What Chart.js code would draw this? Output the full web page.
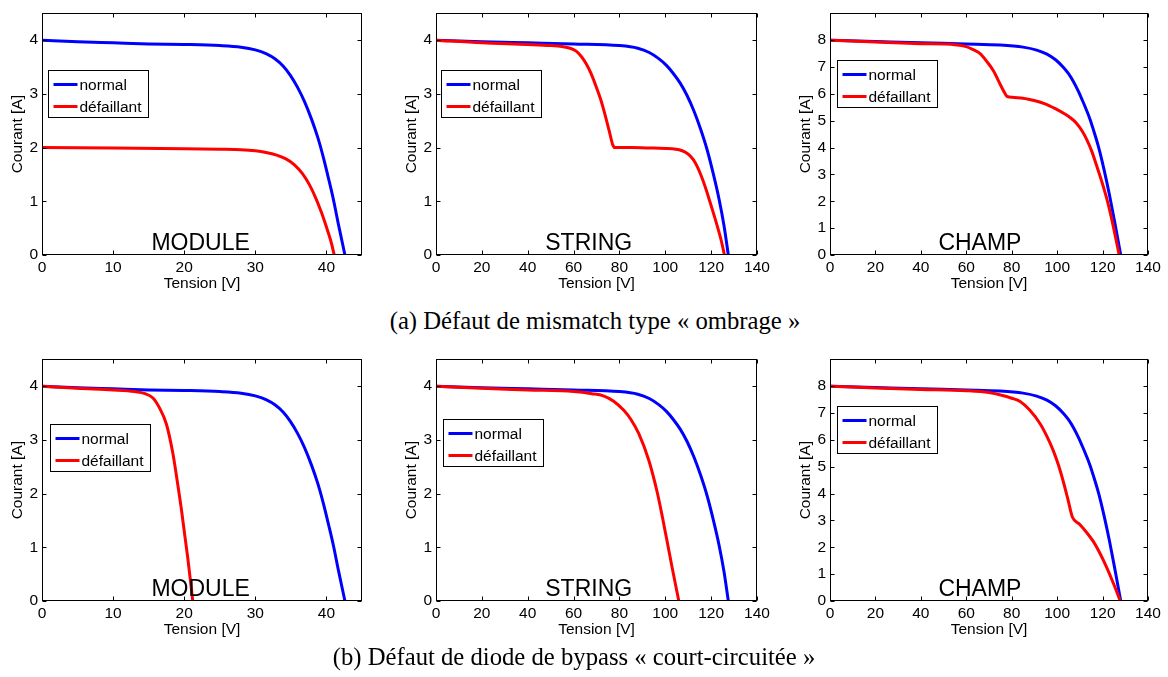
<!DOCTYPE html>
<html>
<head>
<meta charset="utf-8">
<script src="https://cdn.jsdelivr.net/npm/chart.js@4.4.1/dist/chart.umd.min.js"></script>
<style>
  body { margin: 0; background: #fff; width: 1168px; height: 677px; overflow: hidden; position: relative; }
  canvas { position: absolute; }
  .caption {
    position: absolute;
    font-family: "Liberation Serif", "Times New Roman", serif;
    font-size: 24.7px;
    line-height: 24px;
    white-space: nowrap;
    transform: translateX(-50%);
    color: #000;
  }
</style>
</head>
<body>
<canvas id="c1" width="380" height="300" style="left:0px;top:0px"></canvas>
<canvas id="c2" width="380" height="300" style="left:394px;top:0px"></canvas>
<canvas id="c3" width="380" height="300" style="left:788px;top:0px"></canvas>
<canvas id="c4" width="380" height="300" style="left:0px;top:346px"></canvas>
<canvas id="c5" width="380" height="300" style="left:394px;top:346px"></canvas>
<canvas id="c6" width="380" height="300" style="left:788px;top:346px"></canvas>
<div class="caption" style="left:595px;top:309px">(a) Défaut de mismatch type « ombrage »</div>
<div class="caption" style="left:574px;top:645px">(b) Défaut de diode de bypass « court-circuitée »</div>
<script>
// =========================
// DATA (tension V / courant A)
// =========================
const moduleNormalV = [0, 5, 10, 15, 20, 25, 28, 30, 31.5, 32.8, 33.9, 34.9, 35.9, 36.9, 37.9, 38.8, 39.6, 40.3, 41.0, 41.7, 42.6];
const moduleNormalI = [4.0, 3.97, 3.95, 3.93, 3.92, 3.9, 3.87, 3.82, 3.75, 3.65, 3.52, 3.35, 3.13, 2.86, 2.53, 2.18, 1.8, 1.42, 1.02, 0.56, 0];

const stringNormalV = [0, 20, 40, 60, 80, 88, 93, 97, 100.5, 103.5, 106.5, 109.5, 112.5, 115.5, 118.3, 121, 123.5, 125.6, 127.5];
const stringNormalI = [4.0, 3.97, 3.95, 3.93, 3.9, 3.85, 3.77, 3.66, 3.53, 3.38, 3.2, 2.97, 2.68, 2.33, 1.95, 1.5, 1.03, 0.55, 0];

const champNormalV = [0, 20, 40, 60, 75, 85, 91, 95.5, 99.3, 102.6, 105, 107.2, 109.2, 111, 112.8, 114.5, 116.2, 118.3, 120.6, 123, 125.5, 128];
const champNormalI = [8.0, 7.95, 7.9, 7.86, 7.82, 7.74, 7.63, 7.48, 7.27, 7.0, 6.75, 6.45, 6.12, 5.78, 5.42, 5.05, 4.6, 4.0, 3.2, 2.25, 1.15, 0];

// (a) ombrage
const moduleOmbrageV = [0, 10, 20, 25, 28, 30, 31.5, 33, 34.3, 35.5, 36.6, 37.6, 38.5, 39.3, 40.0, 40.6, 41.1];
const moduleOmbrageI = [2.0, 1.99, 1.98, 1.97, 1.96, 1.94, 1.91, 1.86, 1.79, 1.68, 1.52, 1.31, 1.06, 0.79, 0.52, 0.27, 0];

const stringOmbrageV = [0, 20, 40, 50, 55, 58.5, 61, 63.3, 65.5, 67.6, 69.7, 71.8, 73.8, 75.6, 77.1, 78, 85, 95, 103, 106, 108.5, 110.5, 112.3, 114, 115.7, 117.4, 119.2, 121, 122.8, 124.4, 125.8];
const stringOmbrageI = [4.0, 3.95, 3.92, 3.9, 3.88, 3.85, 3.8, 3.7, 3.56, 3.38, 3.15, 2.9, 2.6, 2.3, 2.05, 2.0, 2.0, 1.99, 1.98, 1.96, 1.92, 1.86, 1.77, 1.64, 1.47, 1.27, 1.03, 0.78, 0.52, 0.27, 0];

const champOmbrageV = [0, 20, 40, 55, 60, 63, 66.1, 69, 72, 74.9, 77, 78, 84, 89.5, 95, 99.8, 103, 106, 108.6, 111, 113.2, 115.3, 117.3, 119.6, 122, 124.5, 127.3];
const champOmbrageI = [8.0, 7.93, 7.87, 7.83, 7.76, 7.65, 7.5, 7.21, 6.85, 6.36, 6.02, 5.9, 5.85, 5.76, 5.62, 5.42, 5.27, 5.1, 4.9, 4.62, 4.27, 3.85, 3.35, 2.75, 2.05, 1.15, 0];

// (b) bypass court-circuitée
const moduleBypassV = [0, 5, 10, 13, 14.5, 15.6, 16.5, 17.5, 18.4, 19, 19.6, 20.1, 20.5, 20.9, 21.2];
const moduleBypassI = [4.0, 3.96, 3.93, 3.9, 3.86, 3.78, 3.6, 3.29, 2.75, 2.25, 1.71, 1.2, 0.8, 0.35, 0];

const stringBypassV = [0, 20, 40, 60, 68, 73, 77.5, 81.9, 85, 88.4, 92.8, 96.5, 98.8, 100.8, 103, 105.9];
const stringBypassI = [4.0, 3.96, 3.93, 3.9, 3.86, 3.82, 3.72, 3.55, 3.38, 3.12, 2.62, 2.02, 1.55, 1.11, 0.62, 0];

const champBypassV = [0, 20, 40, 60, 70, 76, 80, 83.7, 88, 92.5, 95.5, 98.3, 100.5, 102.7, 104.7, 106.7, 110, 113, 115.9, 119, 121.8, 124.8, 127.8];
const champBypassI = [8.0, 7.93, 7.88, 7.83, 7.76, 7.65, 7.55, 7.43, 7.1, 6.6, 6.13, 5.6, 5.08, 4.45, 3.8, 3.13, 2.85, 2.55, 2.22, 1.75, 1.25, 0.65, 0];

// ticks
const moduleXTicks = [0, 10, 20, 30, 40];
const stringXTicks = [0, 20, 40, 60, 80, 100, 120, 140];
const currentTicks4 = [0, 1, 2, 3, 4];
const currentTicks8 = [0, 1, 2, 3, 4, 5, 6, 7, 8];

const seriesNames = ["normal", "défaillant"];

// =========================
// HELPERS
// =========================
const FONT = '"Liberation Sans", Arial, sans-serif';

function zip(xs, ys) {
  return xs.map((x, i) => ({ x: x, y: ys[i] }));
}

// MATLAB-like box, inward ticks, panel label and boxed legend
const matlabBox = {
  id: "matlabBox",
  afterDraw(chart, args, opts) {
    const { ctx, chartArea: a, scales } = chart;
    const L = Math.round(a.left) + 0.5, R = Math.round(a.right) - 0.5;
    const T = Math.round(a.top) + 0.5, B = Math.round(a.bottom) - 0.5;
    ctx.save();
    ctx.strokeStyle = "#000";
    ctx.lineWidth = 1;
    ctx.beginPath();
    scales.x.ticks.forEach(t => {
      const px = Math.round(scales.x.getPixelForValue(t.value)) + 0.5;
      ctx.moveTo(px, B); ctx.lineTo(px, B - 4);
      ctx.moveTo(px, T); ctx.lineTo(px, T + 4);
    });
    scales.y.ticks.forEach(t => {
      const py = Math.round(scales.y.getPixelForValue(t.value)) + 0.5;
      ctx.moveTo(L, py); ctx.lineTo(L + 4, py);
      ctx.moveTo(R, py); ctx.lineTo(R - 4, py);
    });
    ctx.stroke();
    ctx.strokeRect(L, T, R - L, B - T);

    // panel label
    ctx.fillStyle = "#000";
    ctx.font = "23px " + FONT;
    ctx.textAlign = "center";
    ctx.textBaseline = "alphabetic";
    ctx.fillText(opts.label, scales.x.getPixelForValue(opts.labelAt), a.bottom - 5);

    // legend
    const bx = Math.round(a.left + opts.lx) + 0.5;
    const by = Math.round(a.top + opts.ly) + 0.5;
    ctx.fillStyle = "#fff";
    ctx.fillRect(bx, by, 100, 47);
    ctx.strokeRect(bx, by, 100, 47);
    ctx.font = "15.5px " + FONT;
    ctx.textAlign = "left";
    ctx.textBaseline = "middle";
    chart.data.datasets.forEach((ds, i) => {
      const ry = by + 14 + i * 22;
      ctx.strokeStyle = ds.borderColor;
      ctx.lineWidth = 3;
      ctx.beginPath();
      ctx.moveTo(bx + 5, ry); ctx.lineTo(bx + 29, ry);
      ctx.stroke();
      ctx.fillStyle = "#000";
      ctx.fillText(ds.label, bx + 31, ry + 1);
    });
    ctx.restore();
  }
};

function makePanel(id, p) {
  new Chart(document.getElementById(id), {
    type: "line",
    data: {
      datasets: [
        {
          label: seriesNames[0],
          data: zip(p.normalV, p.normalI),
          borderColor: "#0000ff",
          borderWidth: 3,
          cubicInterpolationMode: "monotone",
          order: 1
        },
        {
          label: seriesNames[1],
          data: zip(p.faultV, p.faultI),
          borderColor: "#ff0000",
          borderWidth: 3,
          cubicInterpolationMode: "monotone",
          order: 0
        }
      ]
    },
    options: {
      responsive: false,
      animation: false,
      devicePixelRatio: 1,
      elements: { point: { radius: 0 } },
      layout: { padding: { top: 8, right: p.padRight, left: 0, bottom: 0 } },
      plugins: {
        legend: { display: false },
        tooltip: { enabled: false },
        matlabBox: { label: p.label, labelAt: p.labelAt, lx: p.lx, ly: p.ly }
      },
      scales: {
        x: {
          type: "linear",
          min: 0,
          max: p.xMax,
          grid: { display: false, drawTicks: false },
          border: { display: false },
          afterBuildTicks: s => { s.ticks = p.xTicks.map(v => ({ value: v })); },
          afterFit: s => { s.height = 45; },
          ticks: { color: "#000", font: { family: FONT, size: 15.5 }, padding: 3, maxRotation: 0 },
          title: { display: true, text: "Tension [V]", color: "#000", font: { family: FONT, size: 15.5 }, padding: { top: 0, bottom: 7 } }
        },
        y: {
          type: "linear",
          min: 0,
          max: p.yMax,
          grid: { display: false, drawTicks: false },
          border: { display: false },
          afterBuildTicks: s => { s.ticks = p.yTicks.map(v => ({ value: v })); },
          afterFit: s => { s.width = 42; },
          ticks: { color: "#000", font: { family: FONT, size: 15.5 }, padding: 4 },
          title: { display: true, text: "Courant [A]", color: "#000", font: { family: FONT, size: 15.5 }, padding: { top: 8, bottom: 0 } }
        }
      }
    },
    plugins: [matlabBox]
  });
}

// =========================
// (a) OMBRAGE
// =========================
makePanel("c1", {
  normalV: moduleNormalV, normalI: moduleNormalI,
  faultV: moduleOmbrageV, faultI: moduleOmbrageI,
  xMax: 45, xTicks: moduleXTicks, yMax: 4.5, yTicks: currentTicks4,
  label: "MODULE", labelAt: 22.3, lx: 6, ly: 57, padRight: 18
});
makePanel("c2", {
  normalV: stringNormalV, normalI: stringNormalI,
  faultV: stringOmbrageV, faultI: stringOmbrageI,
  xMax: 140, xTicks: stringXTicks, yMax: 4.5, yTicks: currentTicks4,
  label: "STRING", labelAt: 66.6, lx: 5, ly: 57, padRight: 17
});
makePanel("c3", {
  normalV: champNormalV, normalI: champNormalI,
  faultV: champOmbrageV, faultI: champOmbrageI,
  xMax: 140, xTicks: stringXTicks, yMax: 9, yTicks: currentTicks8,
  label: "CHAMP", labelAt: 66, lx: 7, ly: 47, padRight: 20
});

// =========================
// (b) BYPASS COURT-CIRCUITÉE
// =========================
makePanel("c4", {
  normalV: moduleNormalV, normalI: moduleNormalI,
  faultV: moduleBypassV, faultI: moduleBypassI,
  xMax: 45, xTicks: moduleXTicks, yMax: 4.5, yTicks: currentTicks4,
  label: "MODULE", labelAt: 22.3, lx: 8, ly: 65, padRight: 18
});
makePanel("c5", {
  normalV: stringNormalV, normalI: stringNormalI,
  faultV: stringBypassV, faultI: stringBypassI,
  xMax: 140, xTicks: stringXTicks, yMax: 4.5, yTicks: currentTicks4,
  label: "STRING", labelAt: 66.6, lx: 7, ly: 60, padRight: 17
});
makePanel("c6", {
  normalV: champNormalV, normalI: champNormalI,
  faultV: champBypassV, faultI: champBypassI,
  xMax: 140, xTicks: stringXTicks, yMax: 9, yTicks: currentTicks8,
  label: "CHAMP", labelAt: 66, lx: 7, ly: 47, padRight: 20
});
</script>
</body>
</html>
